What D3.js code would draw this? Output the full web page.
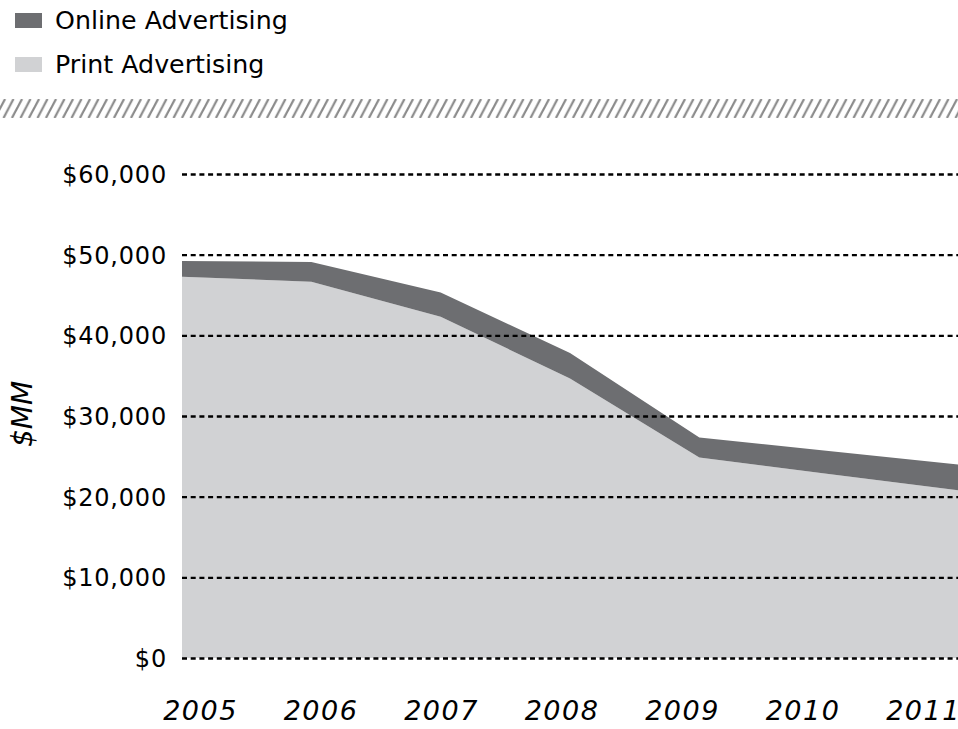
<!DOCTYPE html>
<html>
<head>
<meta charset="utf-8">
<script src="https://cdn.jsdelivr.net/npm/d3@7"></script>
<style>
  html, body { margin: 0; padding: 0; background: #ffffff; }
  svg { display: block; }
  text { font-family: "DejaVu Sans", sans-serif; fill: #000; }
</style>
</head>
<body>
<svg id="chart" width="958" height="729"></svg>
<script>
// Newspaper advertising revenue, $ millions
const years = [2005, 2006, 2007, 2008, 2009, 2010, 2011];
const printValues  = [47250, 46650, 42300, 34650, 24850, 22800, 20800];
const onlineValues = [1950, 2450, 3000, 3150, 2500, 2850, 3200];
const yTicks = [0, 10000, 20000, 30000, 40000, 50000, 60000];
const seriesNames = ["Online Advertising", "Print Advertising"];
const seriesColors = ["#6d6e71", "#d1d2d4"];

const svg = d3.select("#chart");

const rows = years.map((yr, i) => ({ year: yr, print: printValues[i], online: onlineValues[i] }));
const stack = d3.stack().keys(["print", "online"]);
const layers = stack(rows);

const x = d3.scaleLinear().domain([years[0], years[years.length - 1]]).range([182, 958]);
const y = d3.scaleLinear().domain([0, 60000]).range([658, 174]);
// year labels sit on their own evenly spaced positions
const xLabel = d3.scalePoint().domain(years).range([200.5, 923.5]);

// legend
const legend = svg.append("g");
seriesNames.forEach((name, i) => {
  const g = legend.append("g").attr("transform", `translate(15, ${13 + i * 44})`);
  g.append("rect").attr("width", 27).attr("height", 15).attr("fill", seriesColors[i]);
  g.append("text").attr("x", 40).attr("y", 7).attr("dy", "0.36em")
    .style("font-size", "25.3px").text(name);
});

// hatched divider band
const defs = svg.append("defs");
const pat = defs.append("pattern").attr("id", "hatch")
  .attr("patternUnits", "userSpaceOnUse").attr("width", 8.5).attr("height", 19)
  .attr("x", 0).attr("y", 99);
pat.append("line").attr("x1", -5).attr("y1", 19).attr("x2", 5).attr("y2", 0)
  .attr("stroke", "#8a8a8a").attr("stroke-width", 2.2);
pat.append("line").attr("x1", 3.5).attr("y1", 19).attr("x2", 13.5).attr("y2", 0)
  .attr("stroke", "#8a8a8a").attr("stroke-width", 2.2);
svg.append("rect").attr("x", 0).attr("y", 99).attr("width", 958).attr("height", 19)
  .attr("fill", "url(#hatch)");

// stacked areas
const area = d3.area()
  .x(d => x(d.data.year))
  .y0(d => y(d[0]))
  .y1(d => y(d[1]));
const fillFor = { print: seriesColors[1], online: seriesColors[0] };
svg.append("g").selectAll("path").data(layers).join("path")
  .attr("d", area)
  .attr("fill", d => fillFor[d.key]);

// dashed gridlines over the areas
const yAxis = d3.axisLeft(y).tickValues(yTicks)
  .tickFormat(d => "$" + d3.format(",")(d))
  .tickSize(-(958 - 182)).tickPadding(14);
const gy = svg.append("g").attr("transform", "translate(182,0)").call(yAxis);
gy.select(".domain").remove();
gy.selectAll(".tick line").attr("stroke", "#000").attr("stroke-width", 2.4)
  .attr("stroke-dasharray", "5,3.7");
gy.selectAll(".tick text").style("font-size", "24px").style("letter-spacing", "0.8px")
  .attr("fill", "#000").attr("x", -15).attr("dy", "0.36em");

// year labels
svg.append("g").selectAll("text").data(years).join("text")
  .attr("x", d => xLabel(d)).attr("y", 720)
  .attr("text-anchor", "middle")
  .style("font-size", "27px").style("font-style", "italic").style("letter-spacing", "1.5px")
  .text(d => d);

// axis title
svg.append("text")
  .attr("transform", "translate(32,414) rotate(-90)")
  .attr("text-anchor", "middle")
  .style("font-size", "28px").style("font-style", "italic")
  .text("$MM");
</script>
</body>
</html>
